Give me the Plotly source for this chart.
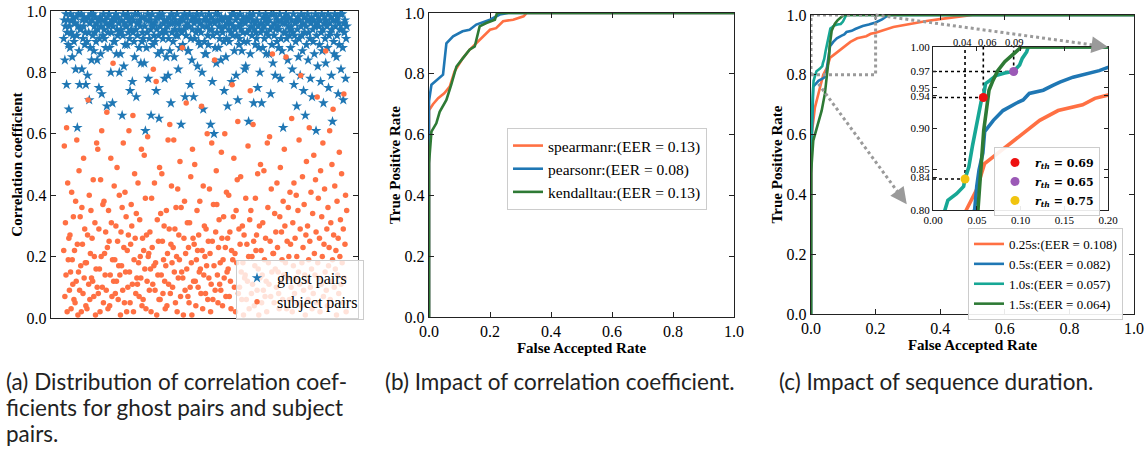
import plotly.graph_objects as go

W, H = 1148, 451

# ---------------- (a) scatter data: correlation coefficients ----------------
ghost_corr = [
    0.91, 0.97, 0.84, 0.95, 0.99, 0.76, 0.93, 0.97, 0.89, 0.68,
    0.95, 0.88, 0.99, 0.93, 0.97, 0.85, 0.92, 0.98, 0.90, 0.96,
    0.96, 0.81, 0.98, 0.92, 0.62, 0.95, 0.99, 0.87, 0.76, 0.94,
    0.94, 0.99, 0.81, 0.97, 0.91, 0.95, 0.98, 0.89, 0.93, 0.76,
    0.97, 0.90, 0.79, 0.98, 0.93, 0.71, 0.96, 0.88, 0.99, 0.84,
    0.97, 0.92, 0.99, 0.87, 0.95, 0.93, 0.98, 0.90, 0.96, 0.84,
    0.94, 0.97, 0.75, 0.91, 0.98, 0.86, 0.95, 0.73, 0.97, 0.92,
    0.99, 0.94, 0.91, 0.97, 0.88, 0.96, 0.69, 0.98, 0.93, 0.95,
    0.99, 0.88, 0.96, 0.80, 0.93, 0.97, 0.70, 0.95, 0.90, 0.98,
    0.90, 0.97, 0.99, 0.86, 0.94, 0.92, 0.98, 0.96, 0.80, 0.93,
    0.86, 0.94, 0.97, 0.66, 0.92, 0.99, 0.82, 0.96, 0.89, 0.95,
    0.98, 0.95, 0.89, 0.99, 0.93, 0.97, 0.91, 0.74, 0.96, 0.94,
    0.98, 0.77, 0.93, 0.97, 0.90, 0.85, 0.99, 0.94, 0.72, 0.96,
    0.92, 0.99, 0.96, 0.88, 0.97, 0.95, 0.83, 0.98, 0.90, 0.93,
    0.91, 0.98, 0.83, 0.95, 0.61, 0.97, 0.88, 0.93, 0.99, 0.78,
    0.97, 0.91, 0.98, 0.94, 0.66, 0.96, 0.99, 0.89, 0.95, 0.92,
    0.96, 0.90, 0.97, 0.74, 0.94, 0.98, 0.86, 0.92, 0.65, 0.99,
    0.95, 0.98, 0.87, 0.93, 0.99, 0.91, 0.96, 0.97, 0.78, 0.94,
    0.93, 0.85, 0.97, 0.95, 0.79, 0.91, 0.98, 0.87, 0.96, 0.70,
    0.99, 0.93, 0.96, 0.90, 0.98, 0.85, 0.94, 0.97, 0.92, 0.96,
    0.99, 0.92, 0.81, 0.96, 0.94, 0.88, 0.97, 0.63, 0.93, 0.98,
    0.89, 0.97, 0.94, 0.99, 0.72, 0.95, 0.92, 0.98, 0.96, 0.87,
    0.87, 0.95, 0.99, 0.76, 0.91, 0.97, 0.84, 0.94, 0.98, 0.72,
    0.96, 0.91, 0.98, 0.93, 0.97, 0.99, 0.82, 0.94, 0.90, 0.97,
    0.96, 0.89, 0.93, 0.99, 0.80, 0.95, 0.68, 0.97, 0.90, 0.86,
    0.98, 0.86, 0.95, 0.97, 0.92, 0.89, 0.99, 0.94, 0.96, 0.63,
    0.98, 0.94, 0.77, 0.92, 0.97, 0.60, 0.96, 0.88, 0.99, 0.83,
    0.93, 0.97, 0.99, 0.88, 0.95, 0.91, 0.97, 0.84, 0.98, 0.94,
    0.93, 0.97, 0.90, 0.74, 0.95, 0.98, 0.85, 0.91, 0.96, 0.69,
    0.97, 0.94, 0.90, 0.98, 0.96, 0.93, 0.77, 0.99, 0.92, 0.95,
    0.99, 0.87, 0.94, 0.97, 0.79, 0.92, 0.98, 0.71, 0.95, 0.89,
    0.91, 0.99, 0.96, 0.94, 0.87, 0.97, 0.93, 0.98, 0.90, 0.81,
    0.96, 0.82, 0.98, 0.93, 0.90, 0.97, 0.64, 0.94, 0.99, 0.86,
    0.98, 0.95, 0.92, 0.97, 0.99, 0.70, 0.94, 0.96, 0.89, 0.93,
    0.91, 0.97, 0.75, 0.95, 0.88, 0.99, 0.80, 0.93, 0.96, 0.70,
    0.94, 0.88, 0.98, 0.95, 0.91, 0.97, 0.99, 0.86, 0.93, 0.96,
    0.98, 0.92, 0.86, 0.97, 0.94, 0.73, 0.99, 0.89, 0.95, 0.83,
    0.99, 0.92, 0.96, 0.79, 0.94, 0.98, 0.90, 0.97, 0.95, 0.88,
    0.94, 0.99, 0.78, 0.91, 0.97, 0.87, 0.96, 0.62, 0.93, 0.98,
    0.96, 0.93, 0.99, 0.91, 0.97, 0.84, 0.95, 0.98, 0.92, 0.94,
    0.88, 0.95, 0.97, 0.81, 0.93, 0.99, 0.76, 0.92, 0.96, 0.90,
    0.97, 0.69, 0.94, 0.98, 0.85, 0.91, 0.97, 0.79, 0.95, 0.99,
    0.92, 0.87, 0.96, 0.74, 0.98, 0.93, 0.66, 0.95, 0.89, 0.97,
    0.99, 0.84, 0.93, 0.97, 0.91, 0.78, 0.96, 0.98, 0.72, 0.94,
    0.90, 0.97, 0.86, 0.95, 0.99, 0.61, 0.92, 0.96, 0.82, 0.98,
    0.95, 0.89, 0.97, 0.77, 0.93, 0.99, 0.87, 0.94, 0.70, 0.96,
    0.98, 0.91, 0.83, 0.97, 0.95, 0.88, 0.99, 0.75, 0.92, 0.96,
    0.93, 0.98, 0.79, 0.94, 0.64, 0.97, 0.90, 0.86, 0.99, 0.95,
    0.97, 0.85, 0.92, 0.98, 0.73, 0.96, 0.89, 0.94, 0.99, 0.81,
    0.94, 0.99, 0.88, 0.71, 0.96, 0.93, 0.97, 0.78, 0.91, 0.95,
]
subject_corr = [
    0.22, 0.56, 0.07, 0.31, 0.14, 0.62, 0.02, 0.44, 0.19, 0.26,
    0.09, 0.27, 0.15, 0.03, 0.41, 0.19, 0.11, 0.33, 0.06, 0.22,
    0.05, 0.38, 0.12, 0.58, 0.24, 0.01, 0.15, 0.48, 0.09, 0.33,
    0.17, 0.02, 0.36, 0.24, 0.08, 0.52, 0.13, 0.29, 0.18, 0.04,
    0.18, 0.03, 0.27, 0.71, 0.11, 0.40, 0.06, 0.21, 0.35, 0.13,
    0.26, 0.12, 0.45, 0.07, 0.20, 0.31, 0.01, 0.16, 0.57, 0.10,
    0.55, 0.08, 0.29, 0.16, 0.02, 0.45, 0.20, 0.61, 0.10, 0.37,
    0.05, 0.38, 0.21, 0.14, 0.28, 0.09, 0.67, 0.23, 0.03, 0.35,
    0.25, 0.04, 0.14, 0.52, 0.31, 0.07, 0.19, 0.83, 0.12, 0.43,
    0.19, 0.08, 0.30, 0.12, 0.49, 0.25, 0.06, 0.17, 0.40, 0.14,
    0.01, 0.28, 0.17, 0.36, 0.09, 0.57, 0.23, 0.05, 0.41, 0.15,
    0.33, 0.02, 0.22, 0.10, 0.27, 0.61, 0.15, 0.05, 0.24, 0.37,
    0.30, 0.11, 0.66, 0.02, 0.19, 0.47, 0.26, 0.08, 0.34, 0.13,
    0.11, 0.44, 0.18, 0.07, 0.32, 0.20, 0.13, 0.55, 0.04, 0.26,
    0.06, 0.22, 0.53, 0.16, 0.39, 0.03, 0.27, 0.12, 0.59, 0.20,
    0.21, 0.09, 0.28, 0.16, 0.02, 0.39, 0.23, 0.11, 0.81, 0.17,
    0.44, 0.09, 0.18, 0.77, 0.01, 0.32, 0.14, 0.25, 0.06, 0.49,
    0.06, 0.34, 0.14, 0.47, 0.25, 0.08, 0.19, 0.30, 0.12, 0.03,
    0.17, 0.35, 0.04, 0.21, 0.58, 0.11, 0.29, 0.63, 0.08, 0.24,
    0.43, 0.18, 0.10, 0.23, 0.58, 0.15, 0.29, 0.05, 0.36, 0.20,
    0.02, 0.42, 0.13, 0.27, 0.19, 0.51, 0.07, 0.36, 0.15, 0.88,
    0.13, 0.01, 0.26, 0.38, 0.09, 0.21, 0.70, 0.16, 0.31, 0.07,
    0.23, 0.05, 0.31, 0.10, 0.46, 0.18, 0.01, 0.55, 0.26, 0.12,
    0.24, 0.50, 0.12, 0.04, 0.19, 0.35, 0.22, 0.10, 0.27, 0.15,
    0.38, 0.16, 0.08, 0.69, 0.22, 0.03, 0.43, 0.14, 0.30, 0.20,
    0.08, 0.29, 0.17, 0.60, 0.06, 0.25, 0.13, 0.42, 0.21, 0.02,
    0.11, 0.57, 0.25, 0.06, 0.37, 0.17, 0.84, 0.09, 0.28, 0.48,
    0.37, 0.14, 0.05, 0.23, 0.32, 0.11, 0.18, 0.09, 0.54, 0.26,
    0.04, 0.19, 0.33, 0.13, 0.60, 0.23, 0.07, 0.41, 0.15, 0.26,
    0.16, 0.40, 0.07, 0.28, 0.12, 0.03, 0.22, 0.76, 0.19, 0.33,
    0.52, 0.10, 0.21, 0.02, 0.35, 0.18, 0.45, 0.64, 0.08, 0.29,
    0.10, 0.24, 0.46, 0.15, 0.06, 0.30, 0.18, 0.01, 0.27, 0.13,
    0.14, 0.39, 0.06, 0.24, 0.12, 0.56, 0.20, 0.03, 0.32, 0.74,
    0.35, 0.08, 0.20, 0.11, 0.63, 0.25, 0.04, 0.17, 0.39, 0.22,
    0.27, 0.09, 0.47, 0.16, 0.01, 0.30, 0.13, 0.50, 0.22, 0.05,
    0.14, 0.31, 0.09, 0.48, 0.19, 0.07, 0.26, 0.12, 0.02, 0.57,
    0.36, 0.18, 0.11, 0.59, 0.25, 0.07, 0.42, 0.15, 0.86, 0.21,
    0.21, 0.05, 0.34, 0.16, 0.28, 0.10, 0.44, 0.23, 0.15, 0.08,
    0.03, 0.33, 0.49, 0.12, 0.28, 0.19, 0.06, 0.38, 0.14, 0.55,
    0.30, 0.18, 0.85, 0.03, 0.25, 0.13, 0.36, 0.20, 0.06, 0.41,
    0.24, 0.10, 0.65, 0.02, 0.31, 0.17, 0.44, 0.08, 0.26, 0.13,
    0.40, 0.20, 0.05, 0.35, 0.15, 0.58, 0.11, 0.29, 0.79, 0.04,
    0.18, 0.46, 0.23, 0.09, 0.37, 0.14, 0.01, 0.27, 0.51, 0.12,
    0.30, 0.06, 0.19, 0.62, 0.25, 0.10, 0.41, 0.16, 0.03, 0.34,
    0.08, 0.53, 0.21, 0.14, 0.45, 0.28, 0.05, 0.72, 0.18, 0.39,
    0.13, 0.26, 0.02, 0.48, 0.11, 0.33, 0.20, 0.57, 0.07, 0.24,
    0.42, 0.15, 0.87, 0.09, 0.29, 0.04, 0.36, 0.17, 0.23, 0.61,
    0.06, 0.31, 0.12, 0.50, 0.19, 0.68, 0.27, 0.10, 0.43, 0.16,
    0.22, 0.01, 0.38, 0.14, 0.26, 0.08, 0.54, 0.20, 0.32, 0.11,
    0.47, 0.18, 0.05, 0.29, 0.73, 0.13, 0.24, 0.40, 0.02, 0.35,
]

# ---------------- (b) ROC curves per correlation coefficient ----------------
spearman_far = [0, 0, 0.013, 0.03, 0.05, 0.068, 0.084, 0.11, 0.133, 0.166, 0.2, 0.22, 0.243, 0.276, 0.31, 0.32, 1.0]
spearman_tpr = [0, 0.68, 0.70, 0.72, 0.736, 0.758, 0.808, 0.85, 0.879, 0.912, 0.945, 0.95, 0.973, 0.978, 0.989, 1.0, 1.0]
pearson_far = [0, 0, 0.008, 0.035, 0.046, 0.057, 0.079, 0.11, 0.133, 0.155, 0.2, 0.232, 0.26, 1.0]
pearson_tpr = [0, 0.71, 0.764, 0.786, 0.797, 0.90, 0.923, 0.94, 0.945, 0.962, 0.978, 0.995, 1.0, 1.0]
kendall_far = [0, 0, 0.008, 0.024, 0.035, 0.057, 0.073, 0.09, 0.11, 0.133, 0.15, 0.166, 0.188, 0.216, 0.223, 1.0]
kendall_tpr = [0, 0.505, 0.61, 0.637, 0.675, 0.714, 0.764, 0.824, 0.85, 0.879, 0.89, 0.956, 0.967, 0.978, 1.0, 1.0]
corr_names = ["spearmanr:(EER = 0.13)", "pearsonr:(EER = 0.08)", "kendalltau:(EER = 0.13)"]

# ---------------- (c) ROC curves per sequence duration ----------------
d025_far = [0, 0, 0.002, 0.012, 0.023, 0.033, 0.038, 0.0495, 0.059, 0.0686, 0.084, 0.103, 0.122, 0.143, 0.171, 0.185, 0.2, 0.255, 0.306, 0.358, 0.41, 0.5, 1.0]
d025_tpr = [0, 0.45, 0.60, 0.69, 0.737, 0.77, 0.80, 0.824, 0.857, 0.865, 0.878, 0.894, 0.91, 0.922, 0.929, 0.937, 0.941, 0.96, 0.971, 0.98, 0.988, 1.0, 1.0]
d05_far = [0, 0, 0.007, 0.023, 0.04, 0.0476, 0.050, 0.0526, 0.057, 0.059, 0.069, 0.08, 0.095, 0.103, 0.11, 0.126, 0.137, 0.145, 0.16, 0.179, 0.19, 0.2, 0.22, 0.24, 1.0]
d05_tpr = [0, 0.49, 0.76, 0.78, 0.79, 0.80, 0.829, 0.849, 0.87, 0.896, 0.91, 0.922, 0.931, 0.935, 0.943, 0.947, 0.953, 0.957, 0.963, 0.968, 0.971, 0.975, 0.985, 1.0, 1.0]
d10_far = [0, 0, 0.004, 0.008, 0.0133, 0.017, 0.027, 0.035, 0.0366, 0.041, 0.045, 0.048, 0.050, 0.0526, 0.055, 0.0575, 0.060, 0.065, 0.072, 0.082, 0.092, 0.099, 0.102, 0.107, 0.109, 1.0]
d10_tpr = [0, 0.55, 0.70, 0.78, 0.80, 0.812, 0.82, 0.829, 0.838, 0.853, 0.878, 0.894, 0.910, 0.922, 0.933, 0.938, 0.955, 0.959, 0.965, 0.968, 0.970, 0.978, 0.986, 0.994, 1.0, 1.0]
d15_far = [0, 0, 0.007, 0.023, 0.033, 0.043, 0.048, 0.0514, 0.0533, 0.056, 0.058, 0.061, 0.064, 0.0686, 0.074, 0.082, 0.091, 0.101, 1.0]
d15_tpr = [0, 0.47, 0.58, 0.637, 0.68, 0.737, 0.785, 0.80, 0.829, 0.865, 0.898, 0.922, 0.947, 0.959, 0.971, 0.982, 0.99, 1.0, 1.0]
dur_names = ["0.25s:(EER = 0.108)", "0.5s:(EER = 0.082)", "1.0s:(EER = 0.057)", "1.5s:(EER = 0.064)"]

# threshold points in the inset
rth_far = [0.0575, 0.0922, 0.0366]
rth_tpr = [0.938, 0.970, 0.838]
rth_names = ["0.69", "0.65", "0.75"]
rth_top_labels = ["0.06", "0.09", "0.04"]
inset_yticks = [0.80, 0.84, 0.85, 0.90, 0.94, 0.95, 0.97, 1.00]

# captions (one entry per printed line)
caption_lines_a = ["(a) Distribution of correlation coef-",
                   "ficients for ghost pairs and subject",
                   "pairs."]
caption_b = "(b) Impact of correlation coefficient."
caption_c = "(c) Impact of sequence duration."

# ---------------- styling ----------------
ORANGE = "#ff7043"
BLUE = "#1f77b4"
TEAL = "#17a795"
GREEN = "#2e7a35"
RTH_COLORS = ["#ee1111", "#9b59b6", "#f1c40f"]
TOP_LABEL_SHIFT = [4, 0, -3]
SERIF = "Liberation Serif"

def px_dom_x(a, b):
    return [a / W, b / W]

def px_dom_y(top, bottom):
    return [1 - bottom / H, 1 - top / H]

DA_X, DA_Y = px_dom_x(51, 358), px_dom_y(11, 318)
DB_X, DB_Y = px_dom_x(429, 734), px_dom_y(13, 317)
DC_X, DC_Y = px_dom_x(811, 1134), px_dom_y(15, 314)
DI_X, DI_Y = px_dom_x(933, 1108), px_dom_y(47, 210)

fig = go.Figure()

# (a)
n_g = len(ghost_corr)
n_s = len(subject_corr)
fig.add_trace(go.Scatter(
    x=[i / (n_g - 1) for i in range(n_g)], y=ghost_corr, mode="markers",
    marker=dict(symbol="star", size=8, color=BLUE, line=dict(width=0)),
    name="ghost pairs", xaxis="x", yaxis="y", legend="legend"))
fig.add_trace(go.Scatter(
    x=[i / (n_s - 1) for i in range(n_s)], y=subject_corr, mode="markers",
    marker=dict(symbol="circle", size=5.5, color=ORANGE, line=dict(width=0)),
    name="subject pairs", xaxis="x", yaxis="y", legend="legend"))

# (b)
for fx, ty, c, nm in [(spearman_far, spearman_tpr, ORANGE, corr_names[0]),
                      (pearson_far, pearson_tpr, BLUE, corr_names[1]),
                      (kendall_far, kendall_tpr, GREEN, corr_names[2])]:
    fig.add_trace(go.Scatter(x=fx, y=ty, mode="lines", line=dict(color=c, width=2.6),
                             name=nm, xaxis="x2", yaxis="y2", legend="legend2"))

# (c) main and inset
dur_series = [(d025_far, d025_tpr, ORANGE), (d05_far, d05_tpr, BLUE),
              (d10_far, d10_tpr, TEAL), (d15_far, d15_tpr, GREEN)]
for (fx, ty, c), nm in zip(dur_series, dur_names):
    fig.add_trace(go.Scatter(x=fx, y=ty, mode="lines", line=dict(color=c, width=2.6),
                             name=nm, xaxis="x3", yaxis="y3", legend="legend3"))
for (fx, ty, c), nm in zip(dur_series, dur_names):
    fig.add_trace(go.Scatter(x=fx, y=ty, mode="lines", line=dict(color=c, width=3.6),
                             name=nm, xaxis="x4", yaxis="y4", showlegend=False))
for fx, ty, c, nm in zip(rth_far, rth_tpr, RTH_COLORS, rth_names):
    fig.add_trace(go.Scatter(x=[fx], y=[ty], mode="markers",
                             marker=dict(size=9, color=c),
                             name="<b><i>r</i><sub><i>th</i></sub> = " + nm + "</b>",
                             xaxis="x4", yaxis="y4", legend="legend4"))

tickfont = dict(family=SERIF, size=16, color="black")
titlefont = dict(family=SERIF, size=15, color="black", weight="bold")
base = dict(showline=True, linecolor="#222", linewidth=1.4, mirror="allticks",
            ticks="inside", ticklen=5, tickwidth=1.4, tickcolor="#222",
            showgrid=False, zeroline=False, tickfont=tickfont, automargin=False)
unit_ticks = dict(range=[0, 1], tickvals=[0, 0.2, 0.4, 0.6, 0.8, 1.0], tickformat=".1f")
inset_base = dict(showline=True, linecolor="#222", linewidth=1.2, mirror="allticks",
                  ticks="inside", ticklen=4, tickwidth=1.2, tickcolor="#222",
                  showgrid=False, zeroline=False, automargin=False,
                  tickfont=dict(family=SERIF, size=11, color="black"), tickformat=".2f")

layout = dict(
    width=W, height=H, margin=dict(l=0, r=0, t=0, b=0, autoexpand=False),
    paper_bgcolor="white", plot_bgcolor="white",
    xaxis=dict(domain=DA_X, anchor="y", range=[-0.045, 1.04], showline=True,
               linecolor="#222", linewidth=1.4, mirror=True, ticks="",
               showticklabels=False, showgrid=False, zeroline=False, automargin=False),
    yaxis=dict(domain=DA_Y, anchor="x", **base, **unit_ticks,
               title=dict(text="Correlation coefficient", font=titlefont, standoff=0)),
    xaxis2=dict(domain=DB_X, anchor="y2", **base, **unit_ticks,
                title=dict(text="False Accepted Rate", font=titlefont, standoff=0)),
    yaxis2=dict(domain=DB_Y, anchor="x2", **base, **unit_ticks,
                title=dict(text="True Positive Rate", font=titlefont, standoff=0)),
    xaxis3=dict(domain=DC_X, anchor="y3", **base, **unit_ticks,
                title=dict(text="False Accepted Rate", font=titlefont, standoff=0)),
    yaxis3=dict(domain=DC_Y, anchor="x3", **base, **unit_ticks,
                title=dict(text="True Positive Rate", font=titlefont, standoff=0)),
    xaxis4=dict(domain=DI_X, anchor="y4", range=[0, 0.2],
                tickvals=[0, 0.05, 0.10, 0.15, 0.20], **inset_base),
    yaxis4=dict(domain=DI_Y, anchor="x4", range=[0.8, 1.0],
                tickvals=inset_yticks, **inset_base),
    legend=dict(x=236 / W, y=1 - 260 / H, xanchor="left", yanchor="top",
                bgcolor="rgba(255,255,255,0.8)", bordercolor="#cccccc", borderwidth=1,
                font=dict(family=SERIF, size=16, color="black")),
    legend2=dict(x=507 / W, y=1 - 128 / H, xanchor="left", yanchor="top",
                 bgcolor="rgba(255,255,255,0.8)", bordercolor="#cccccc", borderwidth=1,
                 font=dict(family=SERIF, size=15.5, color="black")),
    legend3=dict(x=968 / W, y=1 - 228 / H, xanchor="left", yanchor="top",
                 bgcolor="rgba(255,255,255,0.9)", bordercolor="#cccccc", borderwidth=1,
                 font=dict(family=SERIF, size=13, color="black"), tracegroupgap=0),
    legend4=dict(x=1100 / W, y=1 - 147 / H, xanchor="right", yanchor="top",
                 bgcolor="rgba(255,255,255,0.9)", bordercolor="#cccccc", borderwidth=1,
                 font=dict(family="DejaVu Serif", size=11, color="black")),
)
fig.update_layout(**layout)

# ---------- helpers: data -> paper ----------
def to_paper(dx, dy, rx, ry, x, y):
    px = dx[0] + (x - rx[0]) / (rx[1] - rx[0]) * (dx[1] - dx[0])
    py = dy[0] + (y - ry[0]) / (ry[1] - ry[0]) * (dy[1] - dy[0])
    return px, py

shapes = []
annos = []

# zoom rectangle on main (c)
shapes.append(dict(type="rect", xref="x3", yref="y3", x0=0, x1=0.2, y0=0.8, y1=1.0,
                   line=dict(color="#9a9a9a", width=3, dash="dot"), layer="above"))

# dotted connection arrows
def dotted_arrow(start, tip):
    sx, sy = start
    tx, ty = tip
    dxp = (tx - sx) * W
    dyp = -(ty - sy) * H
    L = (dxp ** 2 + dyp ** 2) ** 0.5
    ux, uy = dxp / L, dyp / L
    back = 9
    ex = tx - ux * back / W
    ey = ty + uy * back / H
    shapes.append(dict(type="line", xref="paper", yref="paper", x0=sx, y0=sy, x1=ex, y1=ey,
                       line=dict(color="#9a9a9a", width=3, dash="dot"), layer="above"))
    annos.append(dict(xref="paper", yref="paper", x=tx, y=ty, text="", showarrow=True,
                      axref="pixel", ayref="pixel", ax=-ux * 11, ay=-uy * 11,
                      arrowhead=2, arrowsize=1.1, arrowwidth=3, arrowcolor="#9a9a9a"))

dotted_arrow(to_paper(DC_X, DC_Y, [0, 1], [0, 1], 0.2, 1.0),
             to_paper(DI_X, DI_Y, [0, 0.2], [0.8, 1.0], 0.2, 1.0))
dotted_arrow(to_paper(DC_X, DC_Y, [0, 1], [0, 1], 0.023, 0.77),
             to_paper(DI_X, DI_Y, [0, 0.2], [0.8, 1.0], -0.03, 0.807))

# dotted guide lines in inset + top labels
for fx, ty, lab, sh in zip(rth_far, rth_tpr, rth_top_labels, TOP_LABEL_SHIFT):
    shapes.append(dict(type="line", xref="x4", yref="y4", x0=0, x1=fx, y0=ty, y1=ty,
                       line=dict(color="black", width=1.6, dash="dot"), layer="below"))
    shapes.append(dict(type="line", xref="x4", yref="y4", x0=fx, x1=fx, y0=ty, y1=1.0,
                       line=dict(color="black", width=1.6, dash="dot"), layer="below"))
    annos.append(dict(xref="x4", yref="y4 domain", x=fx, y=1.0, text=lab, showarrow=False,
                      xanchor="center", yanchor="bottom", yshift=-3, xshift=sh,
                      font=dict(family=SERIF, size=10.5, color="black")))

# captions
cap_font = dict(family="Lato", size=22.5, color="#222")
LINE_GAP = 26
caption_blocks = [(4, caption_lines_a), (383, [caption_b]), (777, [caption_c])]
for xpx, lines in caption_blocks:
    for k, line in enumerate(lines):
        annos.append(dict(xref="paper", yref="paper", x=xpx / W,
                          y=1 - (381 + k * LINE_GAP) / H, text=line,
                          showarrow=False, xanchor="left", yanchor="middle", align="left",
                          font=cap_font))

fig.update_layout(shapes=shapes, annotations=annos)
fig.write_html("out.html", config={"displayModeBar": False},
               post_script="document.body.style.margin='0';document.body.style.overflow='hidden';")
